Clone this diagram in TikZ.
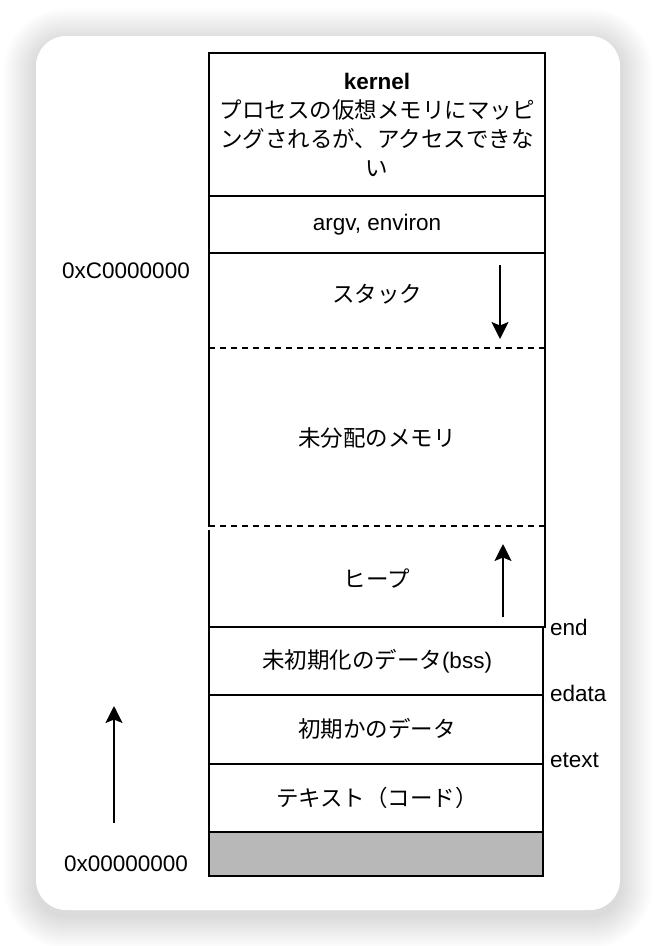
\documentclass[tikz,border=0pt]{standalone}
\usepackage{fontspec}
\setmainfont{Liberation Sans}
\newfontfamily\jp{Noto Sans CJK JP}
\usetikzlibrary{arrows.meta}
\definecolor{grayfill}{HTML}{B8B8B8}
\begin{document}
\begin{tikzpicture}[x=1pt,y=-1pt,
  txt/.style={font=\fontsize{22.5}{28.8}\selectfont, inner sep=0pt, align=center},
  ln/.style={line width=1.7pt, line cap=rect},
  dsh/.style={line width=1.5pt, dash pattern=on 6pt off 5pt},
  arr/.style={line width=1.8pt, -{Stealth[length=17pt,width=17pt,inset=3.5pt]}}]
\useasboundingbox (0,0) rectangle (656,946);
% shadow
\foreach \i in {1,...,18} {
  \pgfmathsetmacro\r{30+\i*1.8}
  \pgfmathsetmacro\d{\i*1.8}
  \fill[black, opacity=0.009, rounded corners=\r pt] (36-\d,41-\d) rectangle (620+\d,916+\d);
}
\fill[white, rounded corners=30pt] (36,36) rectangle (620,910);
% boxes
\fill[grayfill] (209,832) rectangle (543,876);
\draw[ln] (209,53) rectangle (545,196);
\draw[ln] (209,196) rectangle (545,253);
\draw[ln] (209,348) -- (209,253) -- (545,253) -- (545,348);
\draw[dsh] (209,348) -- (545,348);
\draw[ln] (209,348) -- (209,526);
\draw[ln] (545,348) -- (545,526);
\draw[dsh] (209,526) -- (545,526);
\draw[ln] (209,531) -- (209,627);
\draw[ln] (545,527) -- (545,627);
\draw[ln] (209,627) rectangle (543,695);
\draw[ln] (209,695) rectangle (543,764);
\draw[ln] (209,764) rectangle (543,832);
\draw[ln] (209,832) rectangle (543,876);
% texts
\node[txt] (kernel) at (377,125) {\textbf{kernel}\\{\jp プロセスの仮想メモリにマッピ}\\{\jp ングされるが、アクセスできな}\\{\jp い}};
\node[txt] (argv) at (377,225) {argv, environ};
\node[txt] (stack) at (377,294) {\jp スタック};
\node[txt] (free) at (377,438) {\jp 未分配のメモリ};
\node[txt] (heap) at (377,579) {\jp ヒープ};
\node[txt] (bss) at (377,661) {{\jp 未初期化のデータ}(bss)};
\node[txt] (data) at (377,729) {\jp 初期かのデータ};
\node[txt] (text) at (377,798) {\jp テキスト（コード）};
\node[txt, anchor=west] (end) at (550,627) {end};
\node[txt, anchor=west] (edata) at (550,693) {edata};
\node[txt, anchor=west] (etext) at (550,760) {etext};
\node[txt] (hiaddr) at (126,271) {0xC0000000};
\node[txt] (loaddr) at (126,864) {0x00000000};
% arrows
\coordinate (s1) at (500,265); \coordinate (s2) at (500,339);
\coordinate (h1) at (503,617); \coordinate (h2) at (503,544);
\coordinate (a1) at (114,823); \coordinate (a2) at (114,706);
\draw[arr] (s1) -- (s2);
\draw[arr] (h1) -- (h2);
\draw[arr] (a1) -- (a2);
\end{tikzpicture}
\end{document}
